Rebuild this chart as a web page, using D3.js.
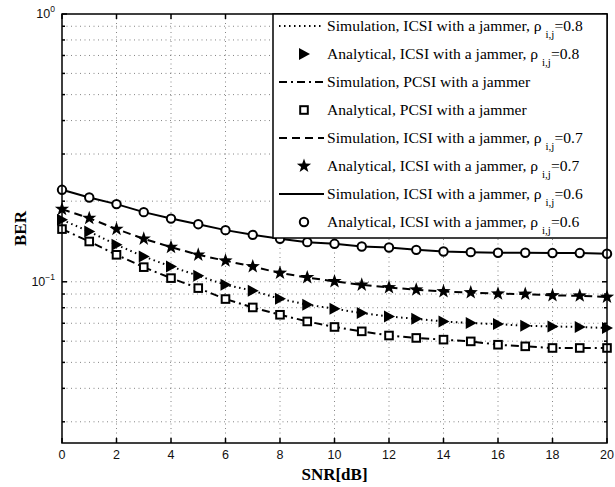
<!DOCTYPE html>
<html><head><meta charset="utf-8">
<script src="https://cdn.jsdelivr.net/npm/d3@7"></script>
<style>body{margin:0;background:#fff}svg{display:block}</style>
</head><body>
<svg id="c" width="615" height="487"></svg>
<script>
const snr = [0,1,2,3,4,5,6,7,8,9,10,11,12,13,14,15,16,17,18,19,20];
const berICSI08 = [0.1703,0.1540,0.1374,0.1243,0.1140,0.1053,0.0974,0.0926,0.0864,0.0821,0.0793,0.0764,0.0742,0.0727,0.0711,0.0701,0.0695,0.0685,0.0681,0.0678,0.0672];
const berPCSI = [0.1573,0.1414,0.1261,0.1134,0.1032,0.0947,0.0862,0.0802,0.0753,0.0711,0.0678,0.0653,0.0630,0.0617,0.0608,0.0599,0.0582,0.0574,0.0566,0.0566,0.0566];
const berICSI07 = [0.1867,0.1728,0.1573,0.1447,0.1347,0.1261,0.1198,0.1140,0.1078,0.1038,0.1003,0.0974,0.0952,0.0934,0.0920,0.0912,0.0902,0.0900,0.0889,0.0887,0.0877];
const berICSI06 = [0.2205,0.2064,0.1950,0.1820,0.1722,0.1641,0.1559,0.1497,0.1447,0.1406,0.1386,0.1354,0.1343,0.1316,0.1297,0.1290,0.1283,0.1283,0.1280,0.1280,0.1272];
const xTickValues = [0,2,4,6,8,10,12,14,16,18,20];
const yMajorTicks = [1, 0.1];
const yMajorLabels = [["10","0"],["10","\u22121"]];
const yMinorTicks = [0.03,0.04,0.05,0.06,0.07,0.08,0.09,0.2,0.3,0.4,0.5,0.6,0.7,0.8,0.9];
const legendLabels = [
  ["Simulation, ICSI with a jammer, \u03c1 ", "i,j", "=0.8"],
  ["Analytical, ICSI with a jammer, \u03c1 ", "i,j", "=0.8"],
  ["Simulation, PCSI with a jammer", "", ""],
  ["Analytical, PCSI with a jammer", "", ""],
  ["Simulation, ICSI with a jammer, \u03c1 ", "i,j", "=0.7"],
  ["Analytical, ICSI with a jammer, \u03c1 ", "i,j", "=0.7"],
  ["Simulation, ICSI with a jammer, \u03c1 ", "i,j", "=0.6"],
  ["Analytical, ICSI with a jammer, \u03c1 ", "i,j", "=0.6"]
];

const L=62, R=607, T=14, B=443;
const svg = d3.select("#c");
const x = d3.scaleLinear().domain([0,20]).range([L,R]);
const y = d3.scaleLog().domain([0.025,1]).range([B,T]);

// grid
const grid = svg.append("g").attr("stroke","#666").attr("stroke-width",0.8).attr("stroke-dasharray","1,3.5");
xTickValues.slice(1,-1).forEach(v=>grid.append("line").attr("x1",x(v)).attr("x2",x(v)).attr("y1",T).attr("y2",B));
yMinorTicks.concat([0.1]).forEach(v=>grid.append("line").attr("x1",L).attr("x2",R).attr("y1",y(v)).attr("y2",y(v)));

// marker shapes
function starPath(R0){const r=R0*0.4;let p="";for(let i=0;i<10;i++){const a=-Math.PI/2+i*Math.PI/5;const rr=i%2?r:R0;p+=(i?"L":"M")+(rr*Math.cos(a)).toFixed(2)+","+(rr*Math.sin(a)).toFixed(2);}return p+"Z";}
const markers = {
  tri: g=>g.append("path").attr("d","M-5,-6L6,0L-5,6Z").attr("fill","#000"),
  sq: g=>g.append("rect").attr("x",-3.8).attr("y",-3.8).attr("width",7.6).attr("height",7.6).attr("fill","#fff").attr("stroke","#000").attr("stroke-width",2),
  star: g=>g.append("path").attr("d",starPath(7.5)).attr("fill","#000"),
  circ: g=>g.append("circle").attr("r",4.2).attr("fill","#fff").attr("stroke","#000").attr("stroke-width",2)
};
const series = [
  {data:berICSI08, dash:"1.5,3.5", m:"tri"},
  {data:berPCSI, dash:"8,4,2,4", m:"sq"},
  {data:berICSI07, dash:"8,5", m:"star"},
  {data:berICSI06, dash:null, m:"circ"}
];
const line = d3.line().x((d,i)=>x(snr[i])).y(d=>y(d));
series.forEach(s=>{
  const p = svg.append("path").datum(s.data).attr("d",line).attr("fill","none").attr("stroke","#000").attr("stroke-width",2);
  if(s.dash) p.attr("stroke-dasharray",s.dash);
});
series.forEach(s=>{
  s.data.forEach((d,i)=>{const g=svg.append("g").attr("transform",`translate(${x(snr[i])},${y(d)})`);markers[s.m](g);});
});

// axes box and ticks
const ax = svg.append("g").attr("stroke","#000").attr("stroke-width",1.5);
ax.append("rect").attr("x",L).attr("y",T).attr("width",R-L).attr("height",B-T).attr("fill","none");
xTickValues.forEach(v=>{
  ax.append("line").attr("x1",x(v)).attr("x2",x(v)).attr("y1",B).attr("y2",B-5);
  ax.append("line").attr("x1",x(v)).attr("x2",x(v)).attr("y1",T).attr("y2",T+5);
});
yMinorTicks.forEach(v=>{
  ax.append("line").attr("x1",L).attr("x2",L+3).attr("y1",y(v)).attr("y2",y(v));
  ax.append("line").attr("x1",R).attr("x2",R-3).attr("y1",y(v)).attr("y2",y(v));
});
yMajorTicks.forEach(v=>{
  ax.append("line").attr("x1",L).attr("x2",L+5).attr("y1",y(v)).attr("y2",y(v));
  ax.append("line").attr("x1",R).attr("x2",R-5).attr("y1",y(v)).attr("y2",y(v));
});
const tf = "'Liberation Sans', Arial, sans-serif";
svg.append("g").selectAll("text").data(xTickValues).join("text")
  .attr("x",d=>x(d)).attr("y",B+16).attr("text-anchor","middle")
  .attr("font-family",tf).attr("font-size",12.5).attr("fill","#111").text(d=>d);
yMajorTicks.forEach((v,i)=>{
  const t = svg.append("text").attr("x",L-7).attr("y",y(v)+4).attr("text-anchor","end")
    .attr("font-family",tf).attr("font-size",12.5).attr("fill","#111");
  t.append("tspan").text(yMajorLabels[i][0]);
  t.append("tspan").attr("dy",-6).attr("font-size",8.5).text(yMajorLabels[i][1]);
});
svg.append("text").attr("x",(L+R)/2).attr("y",480).attr("text-anchor","middle")
  .attr("font-family","'Liberation Serif','Times New Roman',serif").attr("font-weight","bold").attr("font-size",17).text("SNR[dB]");
svg.append("text").attr("transform",`translate(26,${(T+B)/2}) rotate(-90)`).attr("text-anchor","middle")
  .attr("font-family","'Liberation Serif','Times New Roman',serif").attr("font-weight","bold").attr("font-size",17).text("BER");

// legend
const LX0=273, LY0=T, LY1=238;
const lg = svg.append("g");
lg.append("rect").attr("x",LX0).attr("y",LY0).attr("width",R-LX0).attr("height",LY1-LY0).attr("fill","#fff").attr("stroke","#000").attr("stroke-width",1.5);
const rowH = (LY1-LY0)/legendLabels.length;
const legendKinds = [
  {t:"line",dash:"1.5,3.5"},{t:"m",m:"tri"},{t:"line",dash:"8,4,2,4"},{t:"m",m:"sq"},
  {t:"line",dash:"8,5"},{t:"m",m:"star"},{t:"line",dash:null},{t:"m",m:"circ"}
];
legendLabels.forEach((lab,i)=>{
  const cy = LY0 + rowH*(i+0.5) - 2;
  const k = legendKinds[i];
  if(k.t==="line"){
    const l = lg.append("line").attr("x1",279).attr("x2",324).attr("y1",cy).attr("y2",cy).attr("stroke","#000").attr("stroke-width",2);
    if(k.dash) l.attr("stroke-dasharray",k.dash);
  } else {
    markers[k.m](lg.append("g").attr("transform",`translate(304,${cy})`));
  }
  const t = lg.append("text").attr("x",327).attr("y",cy+5).attr("font-family","'Liberation Serif','Times New Roman',serif").attr("font-size",15.6).attr("fill","#000");
  t.append("tspan").text(lab[0]);
  if(lab[1]){
    t.append("tspan").attr("dy",7).attr("font-size",11).text(lab[1]);
    t.append("tspan").attr("dy",-7).text(lab[2]);
  }
});
</script>
</body></html>
